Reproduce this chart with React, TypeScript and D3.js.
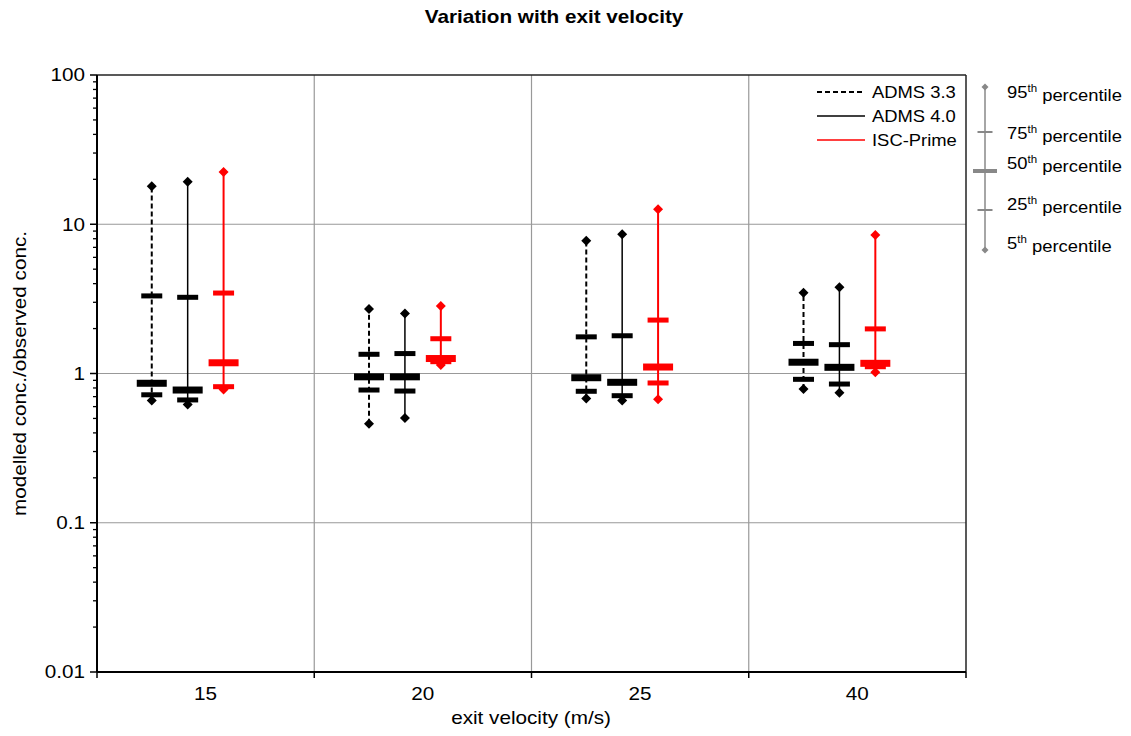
import React from "react";
import * as d3 from "d3";

const categories = ["15", "20", "25", "40"];
const seriesNames = ["ADMS 3.3", "ADMS 4.0", "ISC-Prime"];
// per series: [category][p5, p25, p50, p75, p95]
const adms33 = [
  [0.66, 0.72, 0.86, 3.31, 18.0],
  [0.46, 0.775, 0.95, 1.345, 2.71],
  [0.68, 0.76, 0.937, 1.76, 7.76],
  [0.787, 0.914, 1.19, 1.59, 3.48],
];
const adms40 = [
  [0.62, 0.665, 0.775, 3.24, 19.3],
  [0.503, 0.763, 0.95, 1.36, 2.52],
  [0.66, 0.71, 0.873, 1.79, 8.57],
  [0.743, 0.85, 1.1, 1.56, 3.78],
];
const iscPrime = [
  [0.78, 0.816, 1.18, 3.46, 22.4],
  [1.14, 1.2, 1.26, 1.71, 2.83],
  [0.672, 0.864, 1.105, 2.28, 12.6],
  [1.02, 1.11, 1.17, 1.99, 8.47],
];
const yTicks = [0.01, 0.1, 1, 10, 100];
const percentileLabels = ["95", "75", "50", "25", "5"];

const W = 1131, H = 736;
const M = { left: 97, right: 966, top: 75, bottom: 672 };
const FONT = "'Liberation Sans', Arial, sans-serif";
const SX = 1.15;

function T(props: { x: number; y: number; size: number; anchor?: string; bold?: boolean; fill?: string; rotate?: number; children: React.ReactNode }) {
  const { x, y, size, anchor = "start", bold, fill = "#000", rotate = 0, children } = props;
  return (
    <text
      transform={`translate(${x},${y}) rotate(${rotate}) scale(${SX},1)`}
      textAnchor={anchor}
      dy="0.35em"
      fontSize={size}
      fontWeight={bold ? "bold" : "normal"}
      fill={fill}
    >
      {children}
    </text>
  );
}

export default function App() {
  const y = d3.scaleLog().domain([0.01, 100]).range([M.bottom, M.top]);
  const x = d3.scaleBand().domain(categories).range([M.left, M.right]).padding(0);
  const xs = d3.scaleBand().domain(seriesNames).range([0, x.bandwidth()]).paddingInner(0.0).paddingOuter(1.525);
  const seriesData = [adms33, adms40, iscPrime];
  const colors = ["#000000", "#000000", "#FF0000"];
  const dashes = ["5,3", null, null];
  const lw = [2, 1.5, 2];

  const minorTicks: number[] = [];
  for (let e = -2; e < 2; e++) for (let k = 2; k <= 9; k++) minorTicks.push(k * Math.pow(10, e));

  const diamond = (cx: number, cy: number, r: number) => `M${cx},${cy - r}L${cx + r},${cy}L${cx},${cy + r}L${cx - r},${cy}Z`;
  const boundaries = d3.range(categories.length + 1).map((i) => M.left + i * x.bandwidth());

  return (
    <svg width={W} height={H} style={{ position: "absolute", left: 0, top: 0, background: "#fff" }} fontFamily={FONT}>
      <T x={554} y={17} size={18} anchor="middle" bold>Variation with exit velocity</T>
      {/* grid */}
      {yTicks.slice(1, -1).map((t) => (
        <line key={"hg" + t} x1={M.left} x2={M.right} y1={y(t)} y2={y(t)} stroke="#999" strokeWidth={1.2} />
      ))}
      {boundaries.slice(1, -1).map((b, i) => (
        <line key={"vg" + i} x1={b} x2={b} y1={M.top} y2={M.bottom} stroke="#999" strokeWidth={1.2} />
      ))}
      {/* frame */}
      <line x1={M.left} x2={M.right} y1={M.top} y2={M.top} stroke="#222" strokeWidth={1.5} />
      <line x1={M.right} x2={M.right} y1={M.top} y2={M.bottom} stroke="#222" strokeWidth={1.5} />
      {/* legend box */}
      <rect x={806} y={76} width={159} height={76} fill="#fff" />
      {seriesNames.map((s, i) => (
        <g key={"lg" + s}>
          <line x1={817} x2={865} y1={92 + i * 24} y2={92 + i * 24} stroke={colors[i]} strokeWidth={i === 2 ? 1.5 : lw[i]} strokeDasharray={dashes[i] ?? undefined} />
          <T x={872} y={92 + i * 24} size={16}>{s}</T>
        </g>
      ))}
      {/* boxes */}
      {seriesData.map((data, si) =>
        data.map((v, ci) => {
          const cx = (x(categories[ci]) as number) + (xs(seriesNames[si]) as number);
          const c = colors[si];
          return (
            <g key={`b${si}-${ci}`}>
              <line x1={cx} x2={cx} y1={y(v[0])} y2={y(v[4])} stroke={c} strokeWidth={lw[si]} strokeDasharray={dashes[si] ?? undefined} />
              <rect x={cx - 10.5} width={21} y={y(v[1]) - 2.5} height={5} fill={c} />
              <rect x={cx - 10.5} width={21} y={y(v[3]) - 2.5} height={5} fill={c} />
              <rect x={cx - 15} width={30} y={y(v[2]) - 3.5} height={7} fill={c} />
              <path d={diamond(cx, y(v[0]), 5)} fill={c} />
              <path d={diamond(cx, y(v[4]), 5)} fill={c} />
            </g>
          );
        })
      )}
      {/* axes */}
      <line x1={M.left} x2={M.left} y1={M.top} y2={M.bottom} stroke="#000" strokeWidth={2} />
      <line x1={M.left} x2={M.right} y1={M.bottom} y2={M.bottom} stroke="#000" strokeWidth={2} />
      {minorTicks.map((t) => (
        <line key={"mt" + t} x1={M.left - 4} x2={M.left} y1={y(t)} y2={y(t)} stroke="#000" strokeWidth={1.3} />
      ))}
      {yTicks.map((t) => (
        <g key={"yt" + t}>
          <line x1={M.left - 7} x2={M.left} y1={y(t)} y2={y(t)} stroke="#000" strokeWidth={1.5} />
          <T x={85} y={y(t)} size={18} anchor="end">{String(t)}</T>
        </g>
      ))}
      {boundaries.map((b, i) => (
        <line key={"xt" + i} x1={b} x2={b} y1={M.bottom} y2={M.bottom + 6} stroke="#000" strokeWidth={1.5} />
      ))}
      {categories.map((c) => (
        <T key={"xl" + c} x={(x(c) as number) + x.bandwidth() / 2} y={694} size={18} anchor="middle">{c}</T>
      ))}
      <T x={531} y={718} size={18} anchor="middle">exit velocity (m/s)</T>
      <T x={20} y={(M.top + M.bottom) / 2} size={18} anchor="middle" rotate={-90}>modelled conc./observed conc.</T>
      {/* percentile legend */}
      <g>
        <line x1={985} x2={985} y1={87} y2={250} stroke="#888" strokeWidth={1.5} />
        <path d={diamond(985, 87, 3.5)} fill="#888" />
        <path d={diamond(985, 250, 3.5)} fill="#888" />
        <rect x={977.5} y={131} width={15} height={2} fill="#888" />
        <rect x={973} y={169} width={24} height={4} fill="#888" />
        <rect x={977.5} y={209} width={15} height={2} fill="#888" />
        {percentileLabels.map((p, i) => {
          const ys = [92, 133, 163, 204, 243];
          return (
            <T key={"pl" + p} x={1007} y={ys[i]} size={16}>
              {p}
              <tspan fontSize={10} dy="-0.6em">th</tspan>
              <tspan dy="0.6em"> percentile</tspan>
            </T>
          );
        })}
      </g>
    </svg>
  );
}
